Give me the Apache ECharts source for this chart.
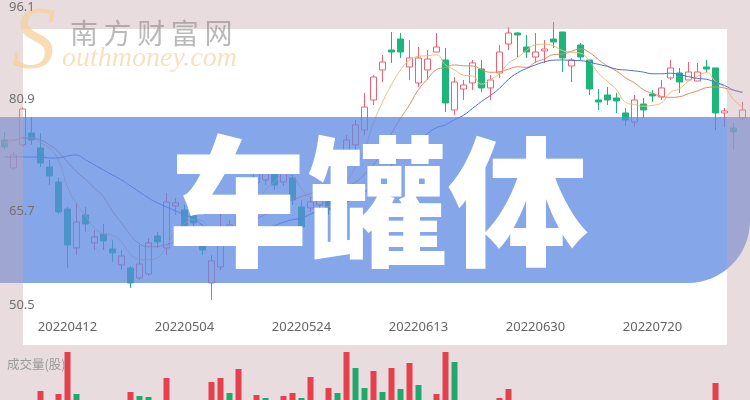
<!DOCTYPE html>
<html><head><meta charset="utf-8">
<script src="https://cdn.jsdelivr.net/npm/echarts@6/dist/echarts.min.js"></script>
<style>html,body{margin:0;padding:0;background:#fff}#c{width:750px;height:400px}</style>
</head><body><div id="c"></div>
<script>
const dates = ['20220330','20220331','20220401','20220406','20220407','20220408','20220411','20220412','20220413','20220414',
'20220415','20220418','20220419','20220420','20220421','20220422','20220425','20220426','20220427','20220428',
'20220504','20220505','20220506','20220509','20220510','20220511','20220512','20220513','20220516','20220517',
'20220518','20220519','20220520','20220524','20220525','20220526','20220527','20220530','20220531','20220601',
'20220602','20220606','20220607','20220608','20220609','20220610','20220613','20220614','20220615','20220616',
'20220617','20220620','20220621','20220622','20220623','20220624','20220627','20220628','20220629','20220630',
'20220701','20220704','20220705','20220706','20220707','20220708','20220711','20220712','20220713','20220714',
'20220715','20220718','20220720','20220721','20220722','20220725','20220726','20220727','20220728','20220729',
'20220801','20220802','20220803'];
const opens = [76.75,72.16,75.93,77.90,75.44,72.32,69.86,65.43,59.04,64.45,
59.86,61.33,58.87,56.25,55.76,54.12,54.77,61.01,59.04,65.93,
65.27,64.45,59.69,53.30,55.92,60.35,61.17,64.45,69.70,70.19,
71.83,69.86,70.52,65.76,65.60,66.09,66.91,67.73,72.65,75.93,
78.39,83.31,88.23,91.51,93.31,88.72,86.10,88.23,91.18,89.87,
81.67,85.11,86.10,88.39,85.28,87.74,92.49,94.30,92.00,90.36,
91.35,93.31,94.46,88.89,92.33,89.87,83.31,84.13,83.64,81.18,
79.70,82.65,84.29,83.80,86.92,87.74,86.59,86.43,88.72,88.56,
81.18,78.72,80.36];
const closes = [75.60,74.29,81.83,76.75,72.98,70.85,64.94,59.53,63.30,62.97,
60.84,60.19,58.22,57.73,53.30,56.41,59.86,60.02,66.58,66.42,
62.32,63.14,58.71,56.91,61.66,62.81,64.45,69.37,72.65,73.47,
69.37,71.50,66.91,62.48,66.58,67.73,65.27,72.65,76.75,79.21,
82.16,87.08,89.54,91.18,91.18,90.20,90.20,90.03,92.00,82.82,
86.26,85.77,89.38,85.28,86.59,91.18,94.30,93.97,91.18,91.18,
91.67,92.82,90.20,89.87,90.36,85.11,82.98,83.31,83.15,80.03,
83.31,81.67,83.97,85.28,88.56,86.26,87.90,87.90,88.39,81.18,
81.51,78.06,81.67];
const lows = [75.11,71.83,75.60,75.93,72.32,69.37,64.61,55.76,57.89,61.66,
58.71,58.71,56.74,55.43,52.48,53.79,54.45,59.04,57.89,64.45,
61.17,61.99,57.89,50.5,55.43,59.53,60.35,63.63,68.88,69.37,
68.55,69.21,66.09,60.68,64.94,65.27,64.45,66.91,71.83,75.11,
77.57,82.49,86.26,89.38,90.20,86.59,85.44,86.59,91.18,81.34,
80.85,83.31,84.95,84.62,83.31,86.92,91.51,90.36,90.20,89.38,
89.38,91.84,87.90,86.26,89.87,84.13,81.67,82.49,81.18,79.05,
78.88,80.36,82.98,83.31,86.59,84.46,86.59,86.43,87.90,78.39,
78.88,75.11,80.03];
const highs = [78.06,74.78,82.16,80.52,77.90,73.47,70.52,65.76,66.42,65.76,
61.99,62.97,60.35,58.71,56.09,59.53,60.68,61.66,68.06,67.24,
66.09,65.27,60.68,57.89,65.27,63.63,65.27,70.19,73.47,74.29,
72.65,72.16,71.01,66.91,67.24,68.55,67.73,73.47,77.57,80.03,
84.46,87.41,90.69,94.46,94.30,93.15,92.00,91.51,94.30,91.84,
87.08,86.59,89.87,89.87,87.41,92.33,95.28,94.46,93.97,94.30,
93.15,96.1,94.46,90.20,92.66,89.87,85.11,85.44,84.46,82.00,
84.13,83.64,84.95,86.59,89.87,88.56,89.54,89.38,89.87,88.56,
82.00,79.54,82.98];
const volumes = [40,35,45,38,61,42,58,100,58,44,
35,38,40,42,60,56,55,40,74,45,
48,40,42,70,74,59,83,50,57,54,
48,56,59,54,75,45,64,59,100,84,
64,81,60,84,63,89,67,50,58,100,
90,48,50,48,45,54,63,45,42,40,
38,45,48,40,38,45,40,35,38,42,
40,38,35,38,40,38,35,36,35,69,
45,48,42];
const volumeRed = [1,1,1,0,1,0,1,1,0,0,
1,0,0,1,1,0,0,0,1,1,
0,0,0,1,1,0,1,1,1,0,
0,1,1,0,1,1,1,0,1,0,
0,1,0,1,0,1,0,0,1,1,
0,1,1,0,1,1,1,0,0,1,
1,0,0,1,0,0,0,0,0,0,
1,0,0,1,1,0,1,1,0,1,
1,0,1];
const ma5Head = [76.26,76.59,77.08,77.08];
const ma10Head = [76.75,76.75,77.08,77.08,76.75,75.93,74.78,73.14,71.50];
const ma20Head = [73.96,73.96,73.96,73.96,73.96,73.80,73.80,74.13,74.29,73.47,72.65,71.83,71.01,70.19,69.21,68.22,67.24,66.42,65.76];
const yTicks = [50.5, 65.7, 80.9, 96.1];
const labelDates = ['20220412','20220504','20220524','20220613','20220630','20220720'];

function movingAverage(n, head) {
  return closes.map((c, i) => {
    if (i < n - 1) return head[i];
    let s = 0;
    for (let k = i - n + 1; k <= i; k++) s += closes[k];
    return +(s / n).toFixed(2);
  });
}

const chart = echarts.init(document.getElementById('c'));
const FONT = '"Noto Sans", "Open Sans", sans-serif';
const frameFill = 'rgba(200,168,174,0.4)';

chart.setOption({
  animation: false,
  backgroundColor: '#ffffff',
  grid: [
    {left: 0, right: 3, top: 22, height: 278},
    {left: 0, right: 3, top: 352, bottom: 0}
  ],
  xAxis: [
    {type: 'category', gridIndex: 0, data: dates, boundaryGap: true,
     axisLine: {show: false}, axisTick: {show: false}, splitLine: {show: false},
     axisLabel: {interval: (idx, val) => labelDates.indexOf(val) >= 0, color: '#666', fontSize: 13,
                 fontFamily: FONT, margin: 21}},
    {type: 'category', gridIndex: 1, data: dates, boundaryGap: true, show: false}
  ],
  yAxis: [
    {type: 'value', gridIndex: 0, min: yTicks[0], max: yTicks[3], interval: 15.2, z: 20,
     axisLine: {show: false}, axisTick: {show: false}, splitLine: {show: false},
     axisLabel: {inside: true, margin: 9, color: '#707070', fontSize: 13, fontFamily: FONT,
       formatter: (v) => {
         let idx = 0, best = 1e9;
         yTicks.forEach((t, i) => { const d = Math.abs(t - v); if (d < best) { best = d; idx = i; } });
         return '{s' + idx + '|' + yTicks[idx].toFixed(1) + '}';
       },
       rich: {
         s0: {padding: [10, 0, 0, 0], color: '#707070', fontSize: 13, fontFamily: FONT},
         s1: {padding: [8, 0, 0, 0], color: '#707070', fontSize: 13, fontFamily: FONT},
         s2: {padding: [0, 0, 30, 0], color: '#707070', fontSize: 13, fontFamily: FONT},
         s3: {padding: [0, 0, 30, 0], color: '#707070', fontSize: 13, fontFamily: FONT}
       }}},
    {type: 'value', gridIndex: 1, min: 52, max: 100, show: false}
  ],
  series: [
    {type: 'candlestick', xAxisIndex: 0, yAxisIndex: 0, barWidth: 6,
     data: dates.map((d, i) => [opens[i], closes[i], lows[i], highs[i]]),
     itemStyle: {color: 'transparent', color0: '#1db57c', borderColor: '#ef6172', borderColor0: '#1db57c', borderWidth: 1}},
    {type: 'line', name: 'MA5', data: movingAverage(5, ma5Head), smooth: true, symbol: 'none',
     lineStyle: {width: 1, color: '#f5bd7a'}},
    {type: 'line', name: 'MA10', data: movingAverage(10, ma10Head), smooth: true, symbol: 'none',
     lineStyle: {width: 1, color: '#e28a5e'}},
    {type: 'line', name: 'MA20', data: movingAverage(20, ma20Head), smooth: true, symbol: 'none',
     lineStyle: {width: 1, color: '#4c6fd6'}},
    {type: 'bar', xAxisIndex: 1, yAxisIndex: 1, barWidth: 6, z: 30, clip: true,
     data: volumes.map((v, i) => ({value: v, itemStyle: {color: volumeRed[i] ? '#e5414c' : '#22a86d'}}))}
  ],
  graphic: [
    {type: 'rect', z: 10, shape: {x: 0, y: 117, width: 750, height: 166, r: [0, 0, 62, 0]},
     style: {fill: 'rgba(92,135,226,0.74)'}},
    {type: 'text', z: 11, x: 378, y: 202,
     style: {text: '车罐体', fill: '#ffffff', font: '900 140px "Noto Sans CJK SC"',
             textAlign: 'center', textVerticalAlign: 'middle', align: 'center', verticalAlign: 'middle'}},
    {type: 'rect', z: 12, shape: {x: 0, y: 0, width: 750, height: 29}, style: {fill: frameFill}},
    {type: 'rect', z: 12, shape: {x: 0, y: 345, width: 750, height: 55}, style: {fill: frameFill}},
    {type: 'rect', z: 12, shape: {x: 0, y: 29, width: 23, height: 316}, style: {fill: frameFill}},
    {type: 'rect', z: 12, shape: {x: 727, y: 29, width: 23, height: 316}, style: {fill: frameFill}},
    {type: 'text', z: 13, x: 12, y: 0,
     style: {text: 'S', fill: 'rgba(245,208,155,0.75)', font: 'italic 88px "Liberation Serif"'}},
    {type: 'text', z: 13, x: 62, y: 45,
     style: {text: 'outhmoney.com', fill: 'rgba(245,214,170,0.75)', font: 'italic 28px "Liberation Serif"'}},
    {type: 'text', z: 13, x: 70, y: 19,
     style: {text: '南\u2009方\u2009财\u2009富\u2009网', fill: 'rgba(130,130,130,0.55)', font: '28px "Noto Sans CJK SC"'}},
    {type: 'text', z: 31, x: 7, y: 358,
     style: {text: '成交量(股)', fill: '#9a9a9a', font: '12.5px "Noto Sans CJK SC"'}}
  ]
});
</script></body></html>
